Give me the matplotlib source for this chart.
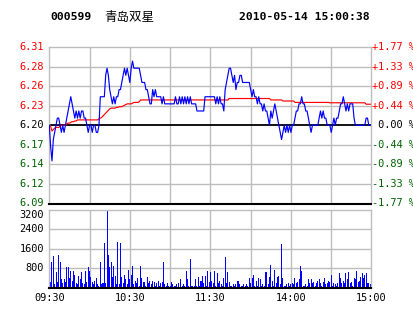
import matplotlib
matplotlib.use("Agg")
import matplotlib.pyplot as plt
import numpy as np

# ---------------- data ----------------
stock_code = "000599"
stock_name = "青岛双星"
timestamp = "2010-05-14 15:00:38"
prev_close = 6.20

price_left_labels = ["6.31", "6.28", "6.26", "6.23", "6.20", "6.17", "6.14", "6.12", "6.09"]
price_right_labels = ["+1.77 %", "+1.33 %", "+0.89 %", "+0.44 %", " 0.00 %",
                      "-0.44 %", "-0.89 %", "-1.33 %", "-1.77 %"]
volume_ticks = [800, 1600, 2400, 3200]
time_labels = ["09:30", "10:30", "11:30", "14:00", "15:00"]
time_label_minutes = [0, 60, 120, 180, 240]

# minute-by-minute last price (241 minutes)
price = [
    6.20, 6.17, 6.15, 6.18, 6.19, 6.20, 6.21, 6.21, 6.20, 6.19,
    6.20, 6.19, 6.20, 6.21, 6.22, 6.23, 6.24, 6.23, 6.22, 6.21,
    6.22, 6.21, 6.22, 6.21, 6.22, 6.22, 6.21, 6.21, 6.20, 6.19,
    6.20, 6.20, 6.19, 6.20, 6.20, 6.19, 6.19, 6.20, 6.24, 6.24,
    6.24, 6.24, 6.27, 6.28, 6.27, 6.25, 6.24, 6.23, 6.24, 6.23,
    6.24, 6.24, 6.25, 6.25, 6.26, 6.27, 6.28, 6.27, 6.28, 6.27,
    6.26, 6.28, 6.29, 6.28, 6.28, 6.28, 6.28, 6.28, 6.27, 6.26,
    6.26, 6.26, 6.25, 6.25, 6.24, 6.23, 6.23, 6.25, 6.24, 6.25,
    6.24, 6.24, 6.24, 6.24, 6.23, 6.24, 6.23, 6.23, 6.23, 6.23,
    6.23, 6.23, 6.23, 6.23, 6.24, 6.23, 6.23, 6.24, 6.23, 6.24,
    6.23, 6.24, 6.23, 6.24, 6.23, 6.24, 6.23, 6.23, 6.23, 6.23,
    6.22, 6.22, 6.22, 6.22, 6.22, 6.22, 6.24, 6.24, 6.24, 6.24,
    6.24, 6.24, 6.24, 6.24, 6.23, 6.24, 6.23, 6.24, 6.23, 6.23,
    6.22, 6.25, 6.26, 6.27, 6.28, 6.28, 6.27, 6.26, 6.27, 6.25,
    6.26, 6.26, 6.27, 6.27, 6.26, 6.26, 6.26, 6.26, 6.26, 6.26,
    6.25, 6.24, 6.25, 6.24, 6.24, 6.23, 6.24, 6.23, 6.23, 6.22,
    6.23, 6.22, 6.22, 6.21, 6.20, 6.22, 6.21, 6.22, 6.23, 6.22,
    6.21, 6.20, 6.19, 6.18, 6.19, 6.20, 6.19, 6.20, 6.19, 6.20,
    6.19, 6.20, 6.20, 6.21, 6.22, 6.22, 6.23, 6.23, 6.24, 6.23,
    6.23, 6.22, 6.22, 6.21, 6.20, 6.19, 6.20, 6.20, 6.20, 6.20,
    6.20, 6.21, 6.22, 6.21, 6.22, 6.21, 6.21, 6.20, 6.20, 6.20,
    6.19, 6.20, 6.21, 6.20, 6.21, 6.21, 6.22, 6.23, 6.23, 6.24,
    6.23, 6.22, 6.23, 6.22, 6.23, 6.23, 6.23, 6.21, 6.20, 6.20,
    6.20, 6.20, 6.20, 6.20, 6.20, 6.20, 6.21, 6.21, 6.20, 6.20,
    6.20,
]

# minute-by-minute average price
avg_price = (
    [6.200, 6.198, 6.192, 6.194, 6.196, 6.197, 6.197, 6.197, 6.198, 6.200,
     6.200, 6.200, 6.200, 6.202, 6.203, 6.203, 6.204, 6.205, 6.205, 6.206,
     6.206]
    + [6.2075] * 16
    + [6.209, 6.210, 6.211, 6.213, 6.215, 6.217, 6.219, 6.221, 6.223, 6.224,
       6.224, 6.224, 6.224, 6.225, 6.225, 6.226, 6.226, 6.226, 6.227, 6.228,
       6.229, 6.230, 6.230, 6.230, 6.230, 6.231, 6.232, 6.232, 6.232, 6.232,
       6.233]
    + [6.2355] * 66
    + [6.2375] * 31
    + [6.2355] * 9
    + [6.234] * 9
    + [6.232] * 26
    + [6.2315] * 27
    + [6.2295] * 5
)

# minute-by-minute volume (lots)
volume = [
    950, 250, 1050, 1300, 150, 650, 250, 1350, 1050, 350,
    200, 350, 250, 850, 850, 400, 700, 300, 700, 550,
    200, 150, 500, 350, 650, 200, 150, 700, 250, 850,
    700, 450, 250, 150, 300, 400, 150, 100, 1050, 150,
    200, 1850, 200, 3150, 1350, 850, 1050, 450, 900, 500,
    150, 1900, 150, 1850, 450, 200, 550, 350, 150, 750,
    350, 550, 900, 150, 300, 200, 400, 100, 900, 400,
    250, 250, 100, 450, 200, 300, 150, 300, 250, 100,
    200, 300, 100, 200, 250, 1050, 150, 100, 200, 100,
    100, 250, 150, 100, 100, 150, 200, 50, 350, 100,
    150, 100, 700, 350, 100, 1200, 100, 100, 100, 350,
    100, 450, 100, 300, 500, 200, 500, 100, 700, 250,
    650, 300, 200, 700, 100, 600, 200, 300, 150, 100,
    400, 1250, 200, 650, 250, 100, 100, 150, 100, 150,
    300, 300, 150, 100, 100, 150, 100, 150, 100, 400,
    200, 400, 550, 100, 300, 100, 400, 350, 100, 150,
    100, 650, 650, 150, 450, 950, 300, 100, 750, 200,
    450, 500, 150, 1800, 400, 100, 100, 150, 200, 100,
    150, 200, 150, 400, 200, 250, 350, 900, 700, 100,
    100, 150, 100, 350, 200, 350, 200, 250, 100, 200,
    300, 350, 200, 100, 250, 400, 150, 200, 300, 250,
    550, 100, 200, 150, 100, 200, 600, 400, 200, 300,
    200, 600, 350, 650, 200, 250, 100, 400, 350, 700,
    250, 300, 450, 600, 400, 550, 600, 200, 200, 150,
    500,
]

# ---------------- drawing ----------------
W, H = 414, 314
fig = plt.figure(figsize=(W / 100, H / 100), dpi=100)
fig.patch.set_facecolor("white")

def fx(px):
    return px / W

def fy(py):
    return 1 - py / H

mono = ["DejaVu Sans Mono", "Noto Sans CJK SC"]
grid_c = "#bdbdbd"
red = "#ff0000"
green = "#006400"
blue = "#0000ff"

left, right = 49.3, 371.5
p_top, p_bot = 47.0, 203.5
v_top, v_bot = 209.8, 288.0

axp = fig.add_axes([fx(left), fy(p_bot), fx(right - left), (p_bot - p_top) / H])
axv = fig.add_axes([fx(left), fy(v_bot), fx(right - left), (v_bot - v_top) / H])

lo = prev_close * (1 - 0.0177)
hi = prev_close * (1 + 0.0177)
levels = np.linspace(hi, lo, len(price_left_labels))

minutes = np.arange(len(price))

for ax in (axp, axv):
    ax.set_xlim(0, 240)
    ax.set_xticks([])
    ax.set_yticks([])
    for s in ax.spines.values():
        s.set_color(grid_c)
        s.set_linewidth(1.0)
    for m in range(30, 240, 30):
        ax.axvline(m, color=grid_c, lw=1.0, zorder=0)

# price panel
axp.set_ylim(lo, hi)
for i, lv in enumerate(levels):
    if i in (0, len(levels) - 1):
        continue
    if abs(lv - prev_close) < 1e-9:
        axp.axhline(lv, color="black", lw=1.3, zorder=1)
    else:
        axp.axhline(lv, color=grid_c, lw=1.0, zorder=0)
axp.spines["bottom"].set_color("black")
axp.spines["bottom"].set_linewidth(1.5)

axp.plot(minutes, price, color=blue, lw=0.85, zorder=3)
axp.plot(np.arange(len(avg_price)), avg_price, color=red, lw=0.85, zorder=2)

tr = axp.get_yaxis_transform()
for lv, lab_l, lab_r in zip(levels, price_left_labels, price_right_labels):
    if abs(lv - prev_close) < 1e-9:
        c = "black"
    elif lv > prev_close:
        c = red
    else:
        c = green
    axp.text(-0.016, lv, lab_l, transform=tr, ha="right", va="center",
             color=c, fontsize=7.4, family=mono)
    axp.text(1.001, lv, lab_r, transform=tr, ha="left", va="center",
             color=c, fontsize=7.4, family=mono)

# volume panel
axv.set_ylim(0, 3200)
for t in volume_ticks[:-1]:
    axv.axhline(t, color=grid_c, lw=1.0, zorder=0)
axv.spines["bottom"].set_color("black")
axv.spines["bottom"].set_linewidth(1.5)
axv.bar(np.arange(len(volume)), volume, width=0.75, color=blue, zorder=2,
        linewidth=0, antialiased=False)

trv = axv.get_yaxis_transform()
for t in volume_ticks:
    axv.text(-0.016, t, str(t), transform=trv, ha="right",
             va="top" if t == volume_ticks[-1] else "center",
             color="black", fontsize=7.4, family=mono)

trx = axv.get_xaxis_transform()
for m, lab in zip(time_label_minutes, time_labels):
    axv.text(m, -0.07, lab, transform=trx, ha="center", va="top",
             color="black", fontsize=7.4, family=mono)

# header
fig.text(fx(50), fy(17.5), stock_code, ha="left", va="center",
         fontsize=8.2, fontweight="bold", family=mono, color="black")
fig.text(fx(104), fy(17.5), stock_name, ha="left", va="center",
         fontsize=9.0, family=["Noto Sans CJK SC", "DejaVu Sans"], color="black")
fig.text(fx(370), fy(17.5), timestamp, ha="right", va="center",
         fontsize=8.2, fontweight="bold", family=mono, color="black")

fig.savefig("out.png", dpi=100, facecolor="white")
